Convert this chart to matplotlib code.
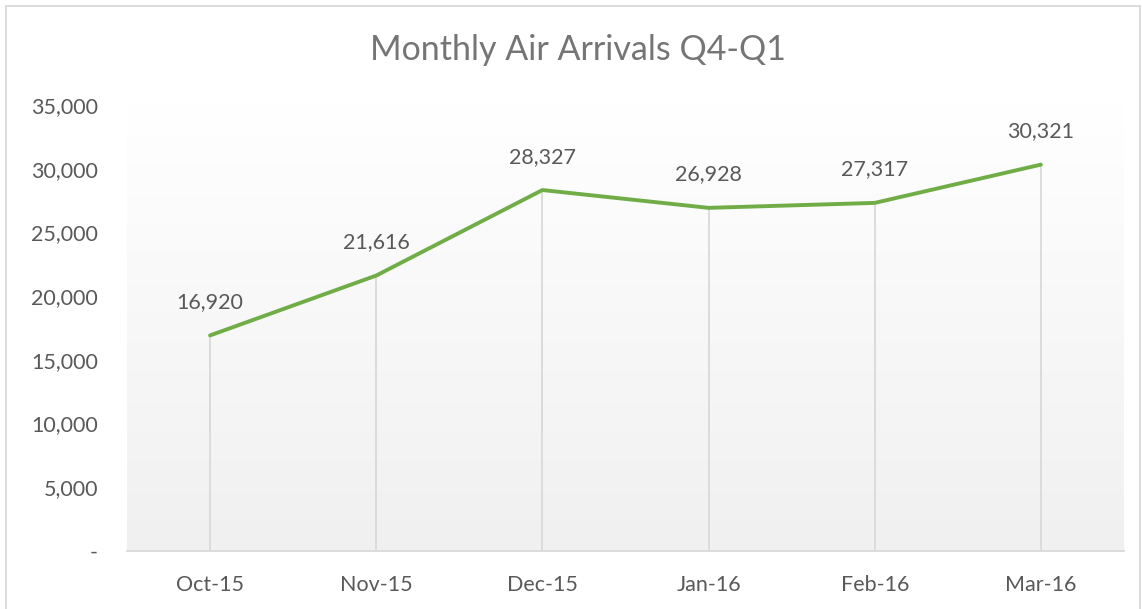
import numpy as np
import matplotlib
matplotlib.use('Agg')
import matplotlib.pyplot as plt
from matplotlib.patches import Rectangle

plt.rcParams['font.family'] = ['Lato', 'DejaVu Sans']

months = ['Oct-15', 'Nov-15', 'Dec-15', 'Jan-16', 'Feb-16', 'Mar-16']
arrivals = [16920, 21616, 28327, 26928, 27317, 30321]
yticks = [0, 5000, 10000, 15000, 20000, 25000, 30000, 35000]

fig = plt.figure(figsize=(11.42, 6.09), dpi=100)
ax = fig.add_axes([0.1112, 0.0952, 0.873, 0.7324])

x = np.arange(len(months))

# gradient background like the excel plot area
grad = np.linspace(1.0, 0.0, 256).reshape(-1, 1)
ax.imshow(grad, extent=[-0.5, 5.5, 0, 35000], aspect='auto', origin='upper',
          cmap=matplotlib.colors.LinearSegmentedColormap.from_list('g', ['#f0f0f0', '#ffffff']),
          vmin=0, vmax=1, zorder=0)

# drop lines
ax.vlines(x, 0, arrivals, color='#d9d9d9', lw=1.3, zorder=1)
ax.plot(x, arrivals, color='#70ad47', lw=2.8, solid_capstyle='round', zorder=3)

for xi, v in zip(x, arrivals):
    ax.annotate(f'{v:,}', (xi, v), xytext=(0, 24), textcoords='offset points',
                ha='center', va='center', fontsize=15.5, color='#595959')

ax.set_xlim(-0.5, 5.5)
ax.set_ylim(0, 35000)
ax.set_xticks(x)
ax.set_xticklabels(months)
ax.set_yticks(yticks)
ax.set_yticklabels(['-' if t == 0 else f'{t:,}' for t in yticks])
ax.tick_params(length=0, labelsize=15.5, labelcolor='#595959')
ax.tick_params(axis='x', pad=17)
ax.tick_params(axis='y', pad=21)
for s in ['top', 'right', 'left']:
    ax.spines[s].set_visible(False)
ax.spines['bottom'].set_color('#d9d9d9')
ax.spines['bottom'].set_linewidth(1.3)

fig.text(0.506, 0.918, 'Monthly Air Arrivals Q4-Q1', ha='center', va='center',
         fontsize=24.5, color='#757575')

fig.patches.append(Rectangle((6/1142, -0.01), 1134/1142, 1 - 6/609 + 0.01,
                             transform=fig.transFigure, fill=False,
                             edgecolor='#d9d9d9', lw=1.3))

fig.savefig('out.png', dpi=100)
